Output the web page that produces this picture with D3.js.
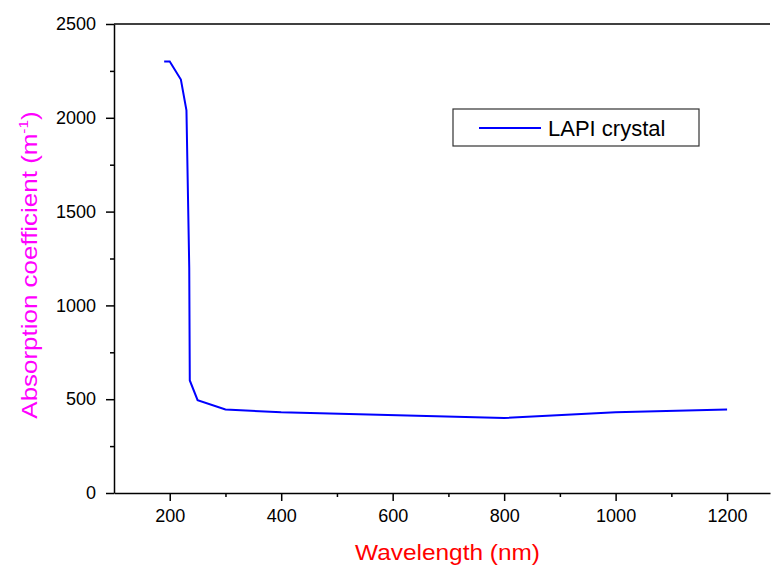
<!DOCTYPE html>
<html>
<head>
<meta charset="utf-8">
<script src="https://d3js.org/d3.v7.min.js"></script>
<style>
  body { margin: 0; background: #fff; }
  text { font-family: Arial, "Liberation Sans", sans-serif; }
</style>
</head>
<body>
<div class="chart"></div>
<script>
// data
const wavelength = [190, 200, 220, 230, 235, 236, 250, 300, 400, 800, 1000, 1200]
const absorption = [2300, 2300, 2204, 2040, 1200, 600, 495, 445, 430, 400, 430, 445]
const xTicks = [200, 400, 600, 800, 1000, 1200]
const yTicks = [0, 500, 1000, 1500, 2000, 2500]
const seriesName = 'LAPI crystal'

const dataset = wavelength.map((w, i) => [w, absorption[i]])

const w = 771
const h = 567
const padLeft = 114, padRight = 770, padTop = 24, padBottom = 493

const svg = d3.select('.chart')
    .append('svg')
    .attr('width', w)
    .attr('height', h)

const xScale = d3.scaleLinear()
    .domain([100, 1277])
    .range([padLeft, padRight])

const yScale = d3.scaleLinear()
    .domain([0, 2500])
    .range([padBottom, padTop])

// minor ticks
const xMinor = d3.range(300, 1277, 200)
const yMinor = d3.range(250, 2500, 500)

const xAxis = d3.axisBottom(xScale)
    .tickValues(xTicks)
    .tickFormat(d3.format('d'))
    .tickSize(8)
    .tickSizeOuter(0)
const yAxis = d3.axisLeft(yScale)
    .tickValues(yTicks)
    .tickFormat(d3.format('d'))
    .tickSize(8)
    .tickSizeOuter(0)

const gx = svg.append('g')
    .attr('transform', 'translate(0,' + padBottom + ')')
    .call(xAxis)
const gy = svg.append('g')
    .attr('transform', 'translate(' + padLeft + ',0)')
    .call(yAxis)

svg.append('g')
    .attr('transform', 'translate(0,' + padBottom + ')')
    .call(d3.axisBottom(xScale).tickValues(xMinor).tickSize(4).tickFormat('').tickSizeOuter(0))
    .select('.domain').remove()
svg.append('g')
    .attr('transform', 'translate(' + padLeft + ',0)')
    .call(d3.axisLeft(yScale).tickValues(yMinor).tickSize(4).tickFormat('').tickSizeOuter(0))
    .select('.domain').remove()

svg.selectAll('.domain, .tick line')
    .attr('stroke', '#000')
    .attr('stroke-width', 1.5)

gx.selectAll('.tick text')
    .attr('font-size', '18px')
    .attr('dy', '1.0em')
    .attr('fill', '#000')
gy.selectAll('.tick text')
    .attr('font-size', '18px')
    .attr('x', -18)
    .attr('fill', '#000')

// top frame line
svg.append('line')
    .attr('x1', padLeft).attr('x2', padRight)
    .attr('y1', padTop).attr('y2', padTop)
    .attr('stroke', '#000')
    .attr('stroke-width', 1.5)

const line = d3.line()
    .x((d) => xScale(d[0]))
    .y((d) => yScale(d[1]))

svg.append('path')
    .datum(dataset)
    .attr('d', line)
    .attr('fill', 'none')
    .attr('stroke', '#0000ff')
    .attr('stroke-width', 2)

// legend
const legend = svg.append('g').attr('transform', 'translate(453,109)')
legend.append('rect')
    .attr('width', 246).attr('height', 37)
    .attr('fill', '#fff')
    .attr('stroke', '#333')
    .attr('stroke-width', 1.2)
legend.append('line')
    .attr('x1', 26).attr('x2', 88)
    .attr('y1', 19).attr('y2', 19)
    .attr('stroke', '#0000ff')
    .attr('stroke-width', 2)
legend.append('text')
    .attr('x', 95).attr('y', 27)
    .attr('font-size', '22px')
    .text(seriesName)

// axis titles
svg.append('text')
    .attr('x', 355).attr('y', 560)
    .attr('font-size', '22px')
    .attr('textLength', 185)
    .attr('lengthAdjust', 'spacingAndGlyphs')
    .attr('fill', '#ff0000')
    .text('Wavelength (nm)')

const yl = svg.append('text')
    .attr('transform', 'translate(37,265) rotate(-90) scale(1.18,1)')
    .attr('text-anchor', 'middle')
    .attr('font-size', '22px')
    .attr('fill', '#ff00ff')
yl.append('tspan').text('Absorption coefficient (m')
yl.append('tspan').attr('font-size', '13px').attr('dy', '-9').text('-1')
yl.append('tspan').attr('dy', '9').text(')')
</script>
</body>
</html>
